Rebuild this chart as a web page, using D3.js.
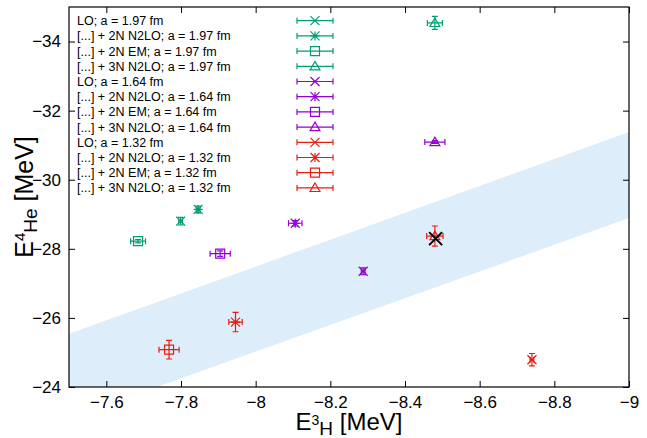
<!DOCTYPE html>
<html>
<head>
<meta charset="utf-8">
<script src="https://cdn.jsdelivr.net/npm/d3@7"></script>
<style>
  body { margin: 0; background: #fff; }
  text { font-family: "Liberation Sans", Arial, sans-serif; }
</style>
</head>
<body>
<svg id="chart" width="647" height="438"></svg>
<script>
// lattice spacings and interaction levels, order matches the legend
let spacings = ["1.97", "1.64", "1.32"];
let variants = ["LO", "[...] + 2N N2LO", "[...] + 2N EM", "[...] + 3N N2LO"];

// E(3H), E(4He) per entry: 1.97 x4, 1.64 x4, 1.32 x4
let e3H    = [-7.799, -7.846, -7.685, -8.480,  -8.288, -8.106, -7.905, -8.480,  -8.740, -7.946, -7.768, -8.480];
let e3Herr = [ 0.005,  0.005,  0.020,  0.020,   0.005,  0.018,  0.027,  0.027,   0.005,  0.018,  0.027,  0.022];
let e4He   = [-28.80, -29.14, -28.22, -34.54,  -27.35, -28.74, -27.86, -31.09,  -24.79, -25.88, -25.08, -28.37];
let e4Heerr= [ 0.11,   0.10,   0.05,   0.19,    0.10,   0.08,   0.08,   0.04,    0.18,   0.28,   0.27,   0.29];

// experiment
let exp3H = -8.482, exp4He = -28.296;

// Tjon band edges
let bandX    = [-7.5, -9];
let bandLow  = [-23.09, -28.89];
let bandHigh = [-25.54, -31.38];

let xTicks = [-7.6, -7.8, -8, -8.2, -8.4, -8.6, -8.8, -9];
let yTicks = [-24, -26, -28, -30, -32, -34];

let colors = ["#009e73", "#9400d3", "#e51e10"];

let L = 69, R = 629, T = 7, B = 387;
let x = d3.scaleLinear().domain([-7.5, -9]).range([L, R]);
let y = d3.scaleLinear().domain([-24, -35]).range([B, T]);

let svg = d3.select("#chart");

svg.append("clipPath").attr("id", "clip")
  .append("rect").attr("x", L).attr("y", T).attr("width", R - L).attr("height", B - T);

// band
let band = [[bandX[0], bandLow[0]], [bandX[1], bandLow[1]], [bandX[1], bandHigh[1]], [bandX[0], bandHigh[0]]];
svg.append("path")
  .attr("clip-path", "url(#clip)")
  .attr("d", d3.line().x(d => x(d[0])).y(d => y(d[1]))(band) + "Z")
  .attr("fill", "#ddeefa");

// axes, ticks on all four sides pointing in
let tl = 6;
svg.append("g").attr("transform", "translate(0," + B + ")")
  .call(d3.axisBottom(x).tickValues(xTicks).tickSizeInner(-tl).tickSizeOuter(0).tickPadding(9)
    .tickFormat(d => d3.format("")(d)))
  .call(g => g.select(".domain").remove());
svg.append("g").attr("transform", "translate(0," + T + ")")
  .call(d3.axisTop(x).tickValues(xTicks).tickSizeInner(-tl).tickSizeOuter(0).tickFormat(""))
  .call(g => g.select(".domain").remove());
svg.append("g").attr("transform", "translate(" + L + ",0)")
  .call(d3.axisLeft(y).tickValues(yTicks).tickSizeInner(-tl).tickSizeOuter(0).tickPadding(8))
  .call(g => g.select(".domain").remove());
svg.append("g").attr("transform", "translate(" + R + ",0)")
  .call(d3.axisRight(y).tickValues(yTicks).tickSizeInner(-tl).tickSizeOuter(0).tickFormat(""))
  .call(g => g.select(".domain").remove());

svg.selectAll(".tick text").attr("font-size", 17).attr("font-family", "Liberation Sans, Arial, sans-serif").attr("fill", "#000");
svg.selectAll(".tick line").attr("stroke", "#000");

svg.append("rect").attr("x", L).attr("y", T).attr("width", R - L).attr("height", B - T)
  .attr("fill", "none").attr("stroke", "#000").attr("stroke-width", 1.2);

// symbols
function symbolPath(kind, s) {
  let xs = "M" + (-s) + "," + (-s) + "L" + s + "," + s + "M" + (-s) + "," + s + "L" + s + "," + (-s);
  if (kind == 0) return xs;
  if (kind == 1) return xs + "M" + (-s) + ",0L" + s + ",0M0," + (-s) + "L0," + s;
  if (kind == 2) return "M" + (-s) + "," + (-s) + "H" + s + "V" + s + "H" + (-s) + "Z";
  return "M0," + (-s * 1.1) + "L" + (s * 1.1) + "," + (s * 0.8) + "L" + (-s * 1.1) + "," + (s * 0.8) + "Z";
}

function drawPoint(g, px, py, x0, x1, y0, y1, kind, color) {
  let c = 3;
  let p = g.append("g").attr("stroke", color).attr("fill", "none").attr("stroke-width", 1.2);
  p.append("path").attr("d",
    "M" + x0 + "," + py + "H" + x1 +
    "M" + x0 + "," + (py - c) + "V" + (py + c) +
    "M" + x1 + "," + (py - c) + "V" + (py + c) +
    "M" + px + "," + y0 + "V" + y1 +
    "M" + (px - c) + "," + y0 + "H" + (px + c) +
    "M" + (px - c) + "," + y1 + "H" + (px + c));
  p.append("path").attr("transform", "translate(" + px + "," + py + ")")
    .attr("d", symbolPath(kind, 4.5));
}

let pts = svg.append("g").attr("clip-path", "url(#clip)");
let leg = svg.append("g");

d3.range(12).forEach(function(i) {
  let gi = Math.floor(i / 4), k = i % 4;
  let color = colors[gi];
  drawPoint(pts, x(e3H[i]), y(e4He[i]),
    x(e3H[i] + e3Herr[i]), x(e3H[i] - e3Herr[i]),
    y(e4He[i] - e4Heerr[i]), y(e4He[i] + e4Heerr[i]), k, color);

  // legend row
  let ly = 20.7 + i * 15.2;
  leg.append("text").attr("x", 77).attr("y", ly + 4.5)
    .attr("font-size", 12.5).attr("fill", "#000")
    .text(variants[k] + "; a = " + spacings[gi] + " fm");
  drawPoint(leg, 315, ly, 297, 333, ly, ly, k, color);
});

// experimental point
svg.append("path")
  .attr("transform", "translate(" + x(exp3H) + "," + y(exp4He) + ")")
  .attr("d", symbolPath(0, 6.5))
  .attr("stroke", "#000").attr("stroke-width", 2).attr("fill", "none");

// axis labels
let xl = svg.append("text").attr("x", (L + R) / 2).attr("y", 430)
  .attr("text-anchor", "middle").attr("font-size", 24).attr("fill", "#000");
xl.append("tspan").text("E");
xl.append("tspan").attr("font-size", 14).attr("dy", -5).text("3");
xl.append("tspan").attr("font-size", 19).attr("dy", 10).text("H");
xl.append("tspan").attr("dy", -5).text(" [MeV]");

let yl = svg.append("text")
  .attr("transform", "translate(33," + ((T + B) / 2) + ") rotate(-90)")
  .attr("text-anchor", "middle").attr("font-size", 25).attr("fill", "#000");
yl.append("tspan").text("E");
yl.append("tspan").attr("font-size", 15).attr("dy", -8).text("4");
yl.append("tspan").attr("font-size", 19).attr("dy", 12).text("He");
yl.append("tspan").attr("dy", -4).text(" [MeV]");
</script>
</body>
</html>
